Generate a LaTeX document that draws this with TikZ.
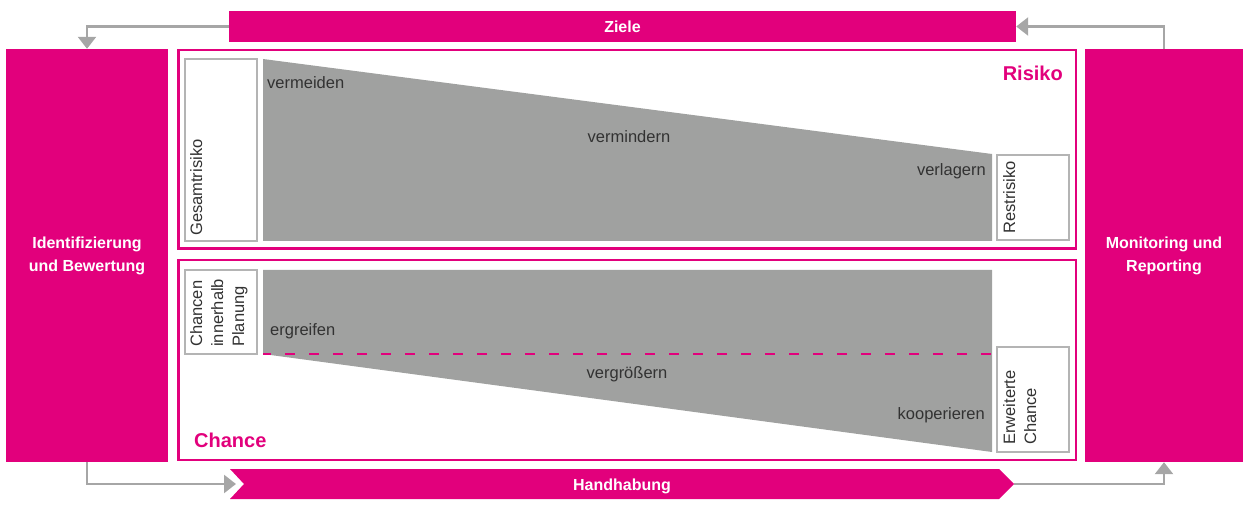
\documentclass[tikz,border=0pt]{standalone}
\usepackage{fontspec}
\setmainfont{Liberation Sans}
\usetikzlibrary{arrows.meta}
\definecolor{tmag}{RGB}{226,0,124}
\definecolor{fillgray}{RGB}{160,161,160}
\definecolor{boxgray}{RGB}{180,180,180}
\definecolor{arrgray}{RGB}{166,166,166}
\definecolor{txt}{RGB}{50,50,50}
\begin{document}
\begin{tikzpicture}[x=1pt,y=-1pt,
  magbox/.style={fill=tmag, draw=none, inner sep=0pt, text=white,
    font=\bfseries\fontsize{16}{23}\selectfont, align=center},
  frame/.style={draw=tmag, line width=2.5pt, inner sep=0pt},
  graybox/.style={draw=boxgray, line width=1.2pt, fill=white, inner sep=0pt},
  conn/.style={draw=arrgray, line width=2.5pt, -{Triangle[width=18pt,length=12pt]}},
  lbl/.style={text=txt, font=\fontsize{16.5}{21}\selectfont, inner sep=0pt},
  vlbl/.style={lbl, rotate=90, anchor=north west, align=left},
  head/.style={text=tmag, font=\bfseries\fontsize{20}{24}\selectfont, inner sep=0pt}]
\useasboundingbox (0,0) rectangle (1243,513);

% magenta bars and side boxes
\node[magbox, minimum width=787pt, minimum height=31pt] (ziele) at (622.5,26.5) {Ziele};
\node[magbox, minimum width=162pt, minimum height=413pt] (left) at (87,255.5) {Identifizierung\\und Bewertung};
\node[magbox, minimum width=158pt, minimum height=413pt] (right) at (1164,255.5) {Monitoring und\\Reporting};

% Handhabung arrow shape
\fill[tmag] (230,469) -- (999,469) -- (1014,484) -- (999,499) -- (230,499) -- (244,484) -- cycle;
\node[magbox, fill=none, anchor=base] (hand) at (622,490) {Handhabung};
\coordinate (handin) at (236,484);
\coordinate (handout) at (1014,484);

% frames
\node[frame, minimum width=897.5pt, minimum height=198.5pt] (risikoframe) at (627,149.5) {};
\node[frame, minimum width=897.5pt, minimum height=199.5pt] (chanceframe) at (627,360) {};
\node[head, anchor=base east] (risiko) at (1063,81) {Risiko};
\node[head, anchor=base west] (chance) at (194,447) {Chance};

% gray shapes
\fill[fillgray] (263,59) -- (992,154) -- (992,241) -- (263,241) -- cycle;
\fill[fillgray] (263,270) -- (992,270) -- (992,452) -- (263,354) -- cycle;
\draw[tmag, line width=1.2pt, dash pattern=on 10pt off 14pt, dash phase=2pt] (263,354) -- (998,354);

% white boxes
\node[graybox, minimum width=72pt, minimum height=182pt] (gesamt) at (221,150) {};
\node[graybox, minimum width=72pt, minimum height=85pt] (rest) at (1033,197.5) {};
\node[graybox, minimum width=72pt, minimum height=84pt] (innen) at (221,312) {};
\node[graybox, minimum width=72pt, minimum height=105pt] (erw) at (1033,399.5) {};

\node[vlbl] (gesamtt) at (190,236) {Gesamtrisiko};
\node[vlbl] (restt) at (1003,234) {Restrisiko};
\node[vlbl] (innent) at (190,347) {Chancen\\innerhalb\\Planung};
\node[vlbl] (erwt) at (1003,445) {Erweiterte\\Chance};

% labels
\node[lbl, anchor=base west] (vermeiden) at (267,89) {vermeiden};
\node[lbl, anchor=base] (vermindern) at (629,143) {vermindern};
\node[lbl, anchor=base east] (verlagern) at (986,176) {verlagern};
\node[lbl, anchor=base west] (ergreifen) at (270,335) {ergreifen};
\node[lbl, anchor=base] (vergroessern) at (627,378) {vergrößern};
\node[lbl, anchor=base east] (kooperieren) at (985,419) {kooperieren};

% connectors
\draw[conn] (ziele.west) -| (left.north);
\draw[conn] (right.north) |- (ziele.east);
\draw[conn] (left.south) |- (handin);
\draw[conn] (handout) -| (right.south);
\end{tikzpicture}
\end{document}
